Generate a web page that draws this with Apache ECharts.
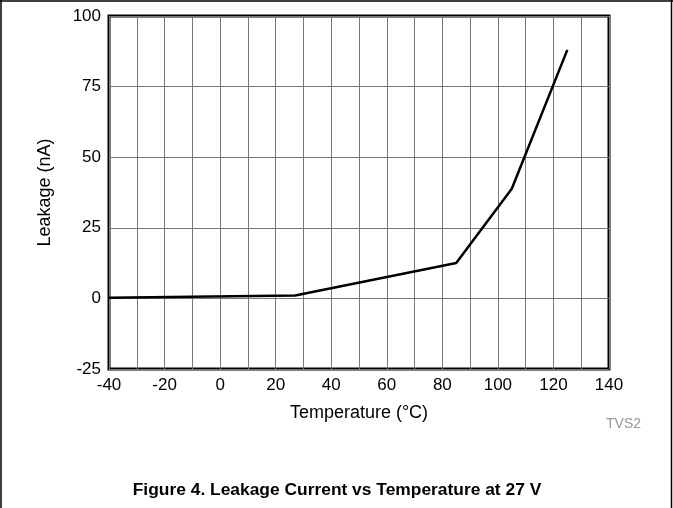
<!DOCTYPE html>
<html>
<head>
<meta charset="utf-8">
<script src="https://cdn.jsdelivr.net/npm/echarts@6/dist/echarts.min.js"></script>
<style>
  html, body { margin: 0; padding: 0; background: #fff; }
  #chart { width: 673px; height: 508px; }
</style>
</head>
<body>
<div id="chart"></div>
<script>
// values
var temperature = [-40, 27, 85, 105, 125];
var leakage = [0.2, 1.0, 12.5, 38.8, 88.0];
var xTicks = [-40, -20, 0, 20, 40, 60, 80, 100, 120, 140];
var yTicks = [-25, 0, 25, 50, 75, 100];

var seriesData = [];
for (var i = 0; i < temperature.length; i++) {
  seriesData.push([temperature[i], leakage[i]]);
}

var myChart = echarts.init(document.getElementById('chart'));
var font = 'Liberation Sans, Arial, sans-serif';

var option = {
  animation: false,
  backgroundColor: '#fff',
  title: [{
    text: 'Figure 4. Leakage Current vs Temperature at 27 V',
    left: 332, top: 477, textAlign: 'center',
    textStyle: { fontFamily: font, fontSize: 17.4, fontWeight: 'bold', color: '#000' }
  }, {
    text: 'TVS2',
    left: 601, top: 412,
    textStyle: { fontFamily: font, fontSize: 14, fontWeight: 'normal', color: '#999' }
  }],
  graphic: [
    { type: 'line', shape: { x1: 0, y1: 1, x2: 673, y2: 1 }, style: { stroke: '#000', lineWidth: 1.5 } },
    { type: 'line', shape: { x1: 1, y1: 0, x2: 1, y2: 508 }, style: { stroke: '#000', lineWidth: 1.5 } },
    { type: 'line', shape: { x1: 671.5, y1: 0, x2: 671.5, y2: 508 }, style: { stroke: '#000', lineWidth: 1.5 } }
  ],
  grid: {
    left: 109, right: 64, top: 16, bottom: 139,
    show: true, borderColor: '#000', borderWidth: 3, backgroundColor: '#fff'
  },
  xAxis: {
    type: 'value',
    min: -40, max: 140, interval: 10,
    name: 'Temperature (°C)',
    nameLocation: 'middle', nameGap: 35,
    nameTextStyle: { fontFamily: font, fontSize: 18, color: '#000' },
    axisLine: { show: false },
    axisTick: { show: false },
    axisLabel: {
      margin: 8, fontFamily: font, fontSize: 17, color: '#000',
      formatter: function(v) { return xTicks.indexOf(v) >= 0 ? String(v) : ''; }
    },
    splitLine: { show: true, lineStyle: { color: '#777', width: 1 } }
  },
  yAxis: {
    type: 'value',
    min: yTicks[0], max: yTicks[yTicks.length - 1], interval: 25,
    name: 'Leakage (nA)',
    nameLocation: 'middle', nameGap: 55,
    nameTextStyle: { fontFamily: font, fontSize: 18, color: '#000' },
    axisLine: { show: false },
    axisTick: { show: false },
    axisLabel: { margin: 8, fontFamily: font, fontSize: 17, color: '#000' },
    splitLine: { show: true, lineStyle: { color: '#777', width: 1 } }
  },
  series: [{
    type: 'line',
    data: seriesData,
    symbol: 'none',
    lineStyle: { color: '#000', width: 2.5 },
    z: 5
  }]
};

myChart.setOption(option);
</script>
</body>
</html>
